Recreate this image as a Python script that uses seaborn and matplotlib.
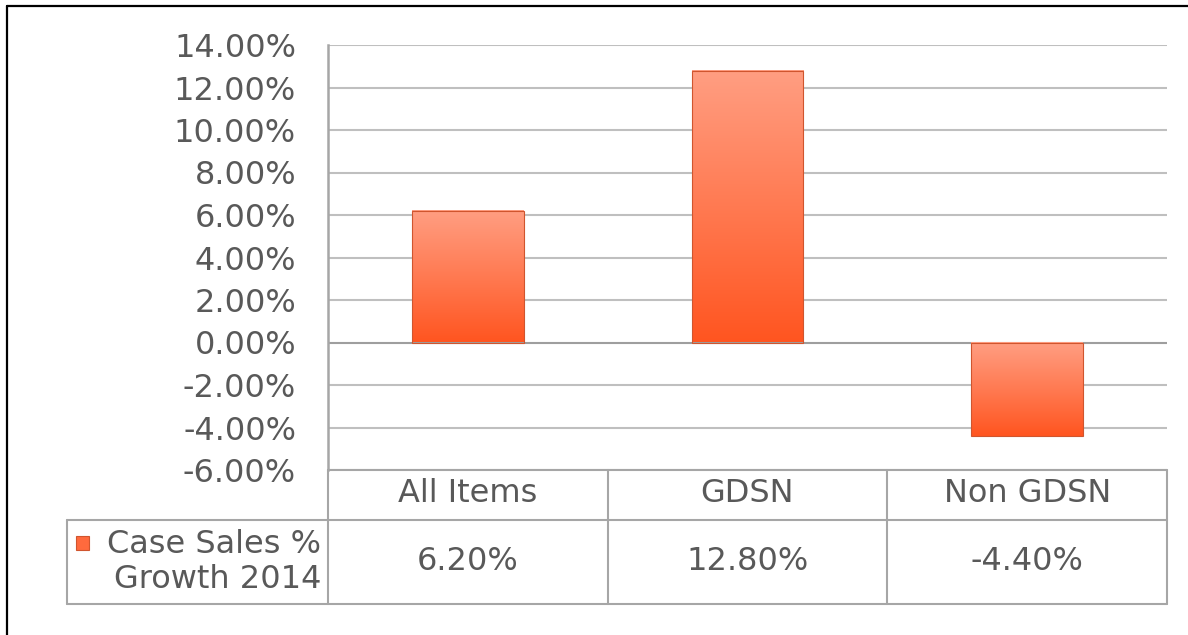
import numpy as np
import pandas as pd
import seaborn as sns
import matplotlib.pyplot as plt
from matplotlib.lines import Line2D
from matplotlib.colors import LinearSegmentedColormap

categories = ['All Items', 'GDSN', 'Non GDSN']
growth = [6.20, 12.80, -4.40]
series_name = 'Case Sales %\nGrowth 2014'
yticks = [14, 12, 10, 8, 6, 4, 2, 0, -2, -4, -6]

sns.set_style('white')
plt.rcParams['font.family'] = ['DejaVu Sans']

text_col = '#595959'
grid_col = '#BFBFBF'
line_col = '#A6A6A6'

df = pd.DataFrame({'cat': categories, 'val': growth})

fig = plt.figure(figsize=(11.88, 6.35), dpi=100)
ax = fig.add_axes([328/1188, 1-470/635, (1167-328)/1188, (470-45)/635])

sns.barplot(data=df, x='cat', y='val', ax=ax, width=0.4, color='#FF7043',
            edgecolor='#D0552E', linewidth=0.8, zorder=3)

# gradient fill, light at top to deep orange at bottom
cmap = LinearSegmentedColormap.from_list('bar', ['#FF9E82', '#FF7A52', '#FF5520'])
grad = np.linspace(0, 1, 256).reshape(-1, 1)
for p in ax.patches:
    x0, w = p.get_x(), p.get_width()
    y0, h = p.get_y(), p.get_height()
    lo, hi = min(y0, y0 + h), max(y0, y0 + h)
    ax.imshow(grad, cmap=cmap, extent=(x0, x0 + w, lo, hi), origin='upper',
              aspect='auto', zorder=3.5)
    p.set_facecolor('none')
    p.set_zorder(4)

ax.set_xlim(-0.5, 2.5)
ax.set_ylim(-6, 14)
ax.set_yticks(yticks)
ax.set_yticklabels([f'{v:.2f}%' for v in yticks], fontsize=23, color=text_col)
ax.tick_params(axis='y', length=0, pad=23)
ax.set_xticks([])
ax.set_xlabel('')
ax.set_ylabel('')

for v in yticks:
    c = '#9E9E9E' if v == 0 else grid_col
    ax.axhline(v, color=c, linewidth=1.5, zorder=1)

for s in ['top', 'right', 'bottom']:
    ax.spines[s].set_visible(False)
ax.spines['left'].set_color(line_col)
ax.spines['left'].set_linewidth(1.8)

# data table below the plot
tr = ax.transAxes
r1 = (470 - 520) / 425
r2 = (470 - 604) / 425
xl = (67 - 328) / 839
kw = dict(transform=tr, color=line_col, linewidth=1.5, clip_on=False)
ax.add_line(Line2D([0, 1], [0, 0], **kw))
ax.add_line(Line2D([xl, 1], [r1, r1], **kw))
ax.add_line(Line2D([xl, 1], [r2, r2], **kw))
ax.add_line(Line2D([xl, xl], [r1, r2], **kw))
for i in range(4):
    ax.add_line(Line2D([i / 3, i / 3], [0, r2], **kw))

for i, (c, v) in enumerate(zip(categories, growth)):
    ax.text((i + 0.5) / 3, (470 - 494) / 425, c, transform=tr, ha='center',
            va='center', fontsize=23, color=text_col)
    ax.text((i + 0.5) / 3, (470 - 562) / 425, f'{v:.2f}%', transform=tr,
            ha='center', va='center', fontsize=23, color=text_col)

ax.text((321 - 328) / 839, (470 - 562) / 425, series_name, transform=tr,
        ha='right', va='center', fontsize=23, color=text_col, linespacing=1.2)
ax.add_patch(plt.Rectangle(((76 - 328) / 839, (470 - 550) / 425), 13 / 839, 14 / 425,
                           transform=tr, facecolor='#FF6A3D', edgecolor='#D0552E',
                           linewidth=0.8, clip_on=False))

# frame of the picture: only top and left edges show
fig.add_artist(Line2D([7/1188, 1], [1-6/635, 1-6/635], color='black', linewidth=1.6))
fig.add_artist(Line2D([7/1188, 7/1188], [0, 1-6/635], color='black', linewidth=1.6))

fig.savefig('out.png', dpi=100)
